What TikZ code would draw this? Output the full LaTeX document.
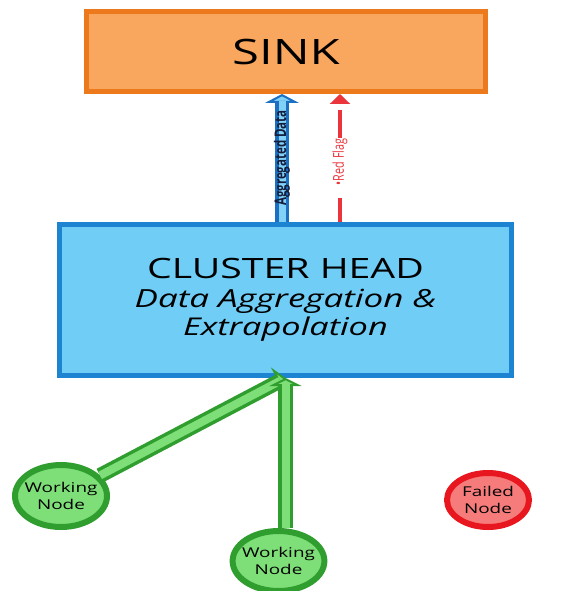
\documentclass[tikz,border=0pt]{standalone}
\usepackage{fontspec}
\setmainfont{Open Sans}[FakeStretch=1.4]
\newfontfamily\narrowfont{Open Sans}[FakeStretch=0.72]
\usepackage{xcolor}
\usetikzlibrary{arrows.meta,shapes.geometric}

\definecolor{sinkfill}{HTML}{F9A65E}
\definecolor{sinkline}{HTML}{EC7A1C}
\definecolor{headfill}{HTML}{6FCDF6}
\definecolor{headline}{HTML}{1D84D2}
\definecolor{aggout}{HTML}{1B70C4}
\definecolor{aggin}{HTML}{82D2F8}
\definecolor{nodefill}{HTML}{7EDF78}
\definecolor{nodeline}{HTML}{2F9E2F}
\definecolor{failfill}{HTML}{F67B7B}
\definecolor{failline}{HTML}{E8161E}
\definecolor{flagred}{HTML}{E9353B}
\definecolor{labelnavy}{HTML}{141E3C}

\tikzset{
	box/.style={rectangle, draw, line width=5pt},
	sensor/.style={ellipse, draw=nodeline, fill=nodefill, line width=6pt, align=center, inner xsep=-4pt, inner ysep=0pt, font=\fontsize{13.5}{17}\selectfont},
	arrowlabel/.style={sloped, inner sep=1pt},
}

\begin{document}
\begin{tikzpicture}[x=1pt, y=-1pt]
				\useasboundingbox (0,0) rectangle (561,591);
				
				%Sink
				\node[box, draw=sinkline, fill=sinkfill, minimum width=399pt, minimum height=80pt, font=\fontsize{35}{40}\selectfont] (sink) at (286,51.5) {SINK};
				
				%Cluster head
				\node[box, draw=headline, fill=headfill, minimum width=452pt, minimum height=151pt, align=center, font=\fontsize{24}{28.5}\selectfont] (ch) at (285.5,300) {{\fontsize{28}{28.5}\selectfont CLUSTER HEAD}\\ {\fontsize{25}{28.5}\selectfont\itshape Data Aggregation \&}\\ {\fontsize{24.5}{28.5}\selectfont\itshape Extrapolation}};
				
				%Level 3
				\node[sensor, minimum width=92pt, minimum height=62pt] (wn1) at (61,496) {Working\\Node};
				\node[sensor, minimum width=91pt, minimum height=60pt] (wn2) at (278.5,561) {Working\\Node};
				\node[sensor, draw=failline, fill=failfill, minimum width=82pt, minimum height=54pt] (fn) at (488,500) {Failed\\Node};
				
				%Up lines
				\coordinate (aggfoot) at ([xshift=-3.5pt]ch.north);
				\coordinate (agghead) at (aggfoot |- sink.south);
				\draw[aggout, line width=14pt, -{Triangle[length=9pt, width=34pt, fill=aggin, line width=2pt]}] (aggfoot) -- (agghead);
				\draw[aggin, line width=7pt, shorten >=7pt] (aggfoot) -- (agghead) node[arrowlabel, pos=0.5, text=labelnavy, font=\narrowfont\bfseries\fontsize{16}{16}\selectfont] {Aggregated Data};
				
				\coordinate (flagfoot) at ([xshift=54.5pt]ch.north);
				\coordinate (flaghead) at (flagfoot |- sink.south);
				\draw[flagred, line width=4pt, dash pattern=on 24.5pt off 60pt on 27pt off 30pt, -{Triangle[length=10pt, width=20pt]}] (flagfoot) -- (flaghead) node[arrowlabel, pos=0.47, text=flagred, font=\narrowfont\fontsize{15}{15}\selectfont] {\textbullet Red Flag};
				
				%Lines
				\draw[nodeline, line width=15pt, -{Triangle[length=8pt, width=32pt, fill=nodefill, line width=2pt]}] (wn1) -- (ch.south);
				\draw[nodefill, line width=8pt, shorten >=6pt] (wn1) -- (ch.south);
				
				\coordinate (wn2top) at (ch.south |- wn2.north);
				\draw[nodeline, line width=15pt, -{Triangle[length=8pt, width=32pt, fill=nodefill, line width=2pt]}] (wn2top) -- (ch.south);
				\draw[nodefill, line width=8pt, shorten >=6pt] (wn2top) -- (ch.south);
			\end{tikzpicture}
\end{document}
